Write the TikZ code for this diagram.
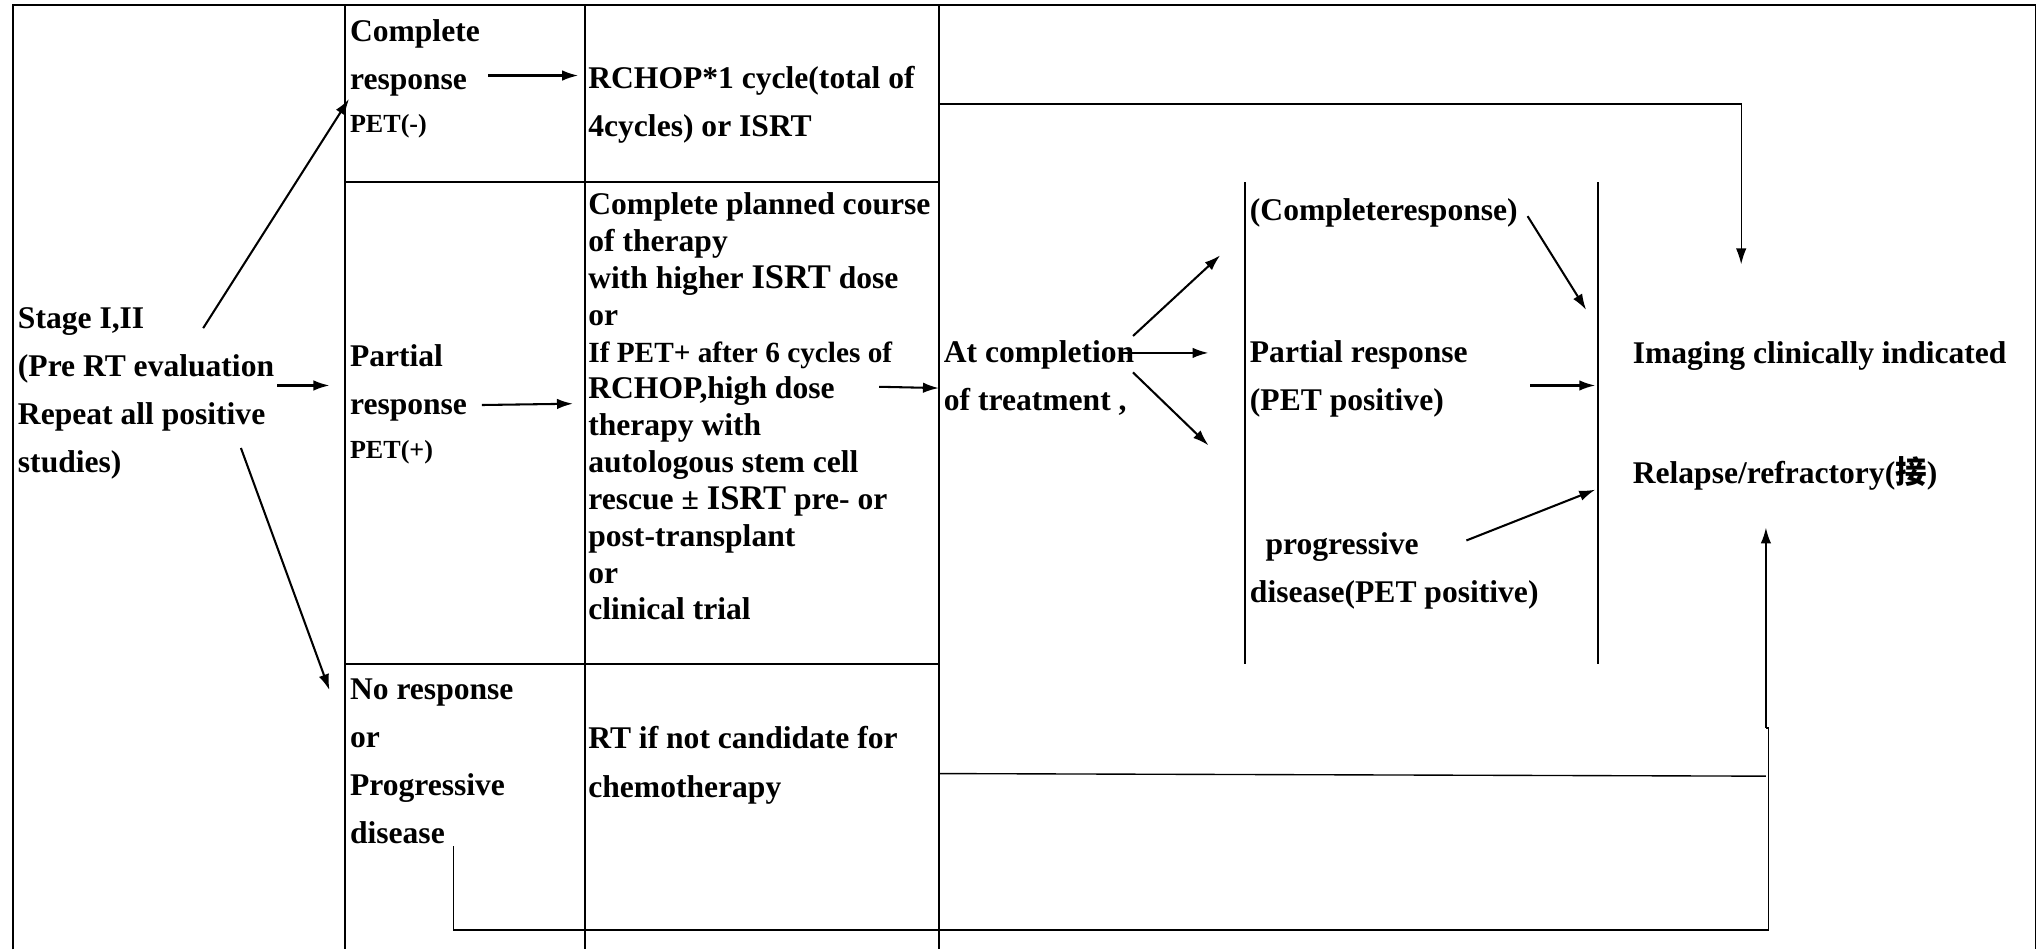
\documentclass[tikz,border=0pt]{standalone}
\usepackage{fontspec}
\setmainfont{Liberation Serif}
\newfontfamily\cjk{Noto Sans CJK SC}
\usetikzlibrary{arrows.meta}
\newcommand{\petfont}{\fontsize{11.4}{14}\selectfont}
\newcommand{\notefont}{\fontsize{12.8}{16.1}\selectfont}
\newcommand{\isrtfont}{\fontsize{15.1}{16.1}\selectfont}

\begin{document}
\begin{tikzpicture}[x=0.02cm, y=-0.02cm, >={Latex[length=7pt,width=4.6pt]}, line width=0.9pt]
  \tikzstyle{txt}=[anchor=base west, inner sep=0pt, align=left, font=\bfseries\fontsize{13.8}{21}\selectfont]
  \tikzstyle{dense}=[txt, font=\bfseries\fontsize{13.8}{16.1}\selectfont]
  \tikzstyle{tabline}=[line width=0.85pt]
  \tikzstyle{subline}=[line width=0.5pt]
  \tikzstyle{conn}=[line width=0.6pt]
  \useasboundingbox (0,0) rectangle (1568,729);

  % table
  \draw[tabline] (10,729) -- (10,4) -- (1563,4) -- (1563,729);
  \draw[tabline] (265,4) -- (265,729);
  \draw[tabline] (449,4) -- (449,729);
  \draw[tabline] (721,4) -- (721,729);
  \draw[tabline] (265,140) -- (721,140);
  \draw[tabline] (265,510) -- (721,510);
  \draw[subline] (956,140) -- (956,510);
  \draw[subline] (1227,140) -- (1227,510);

  % texts (placed by the baseline of their last line)
  \node[txt] (stage) at (13,363) {Stage I,II\\(Pre RT evaluation\\Repeat all positive\\studies)};
  \node[txt] (cr) at (268,102) {Complete\\response\\[-2pt]{\petfont PET(-)}};
  \node[txt] (pr) at (268,352) {Partial\\response\\[-2pt]{\petfont PET(+)}};
  \node[txt] (nr) at (268,648) {No response\\or\\Progressive\\disease};
  \node[txt] (rchop) at (451,105) {RCHOP*1 cycle(total of\\4cycles) or ISRT};
  \node[dense] (plan) at (451,476) {Complete planned course\\of therapy\\with higher {\isrtfont ISRT} dose\\or\\{\notefont If PET+ after 6 cycles of}\\RCHOP,high dose\\therapy with\\autologous stem cell\\rescue ± {\isrtfont ISRT} pre- or\\post-transplant\\or\\clinical trial};
  \node[txt] (rt) at (451,612) {RT if not candidate for\\chemotherapy};
  \node[txt] (atc) at (724,315) {At completion\\of treatment ,};
  \node[txt] (compl) at (959,169) {(Completeresponse)};
  \node[txt] (partl) at (959,315) {Partial response\\(PET positive)};
  \node[txt] (progd) at (959,463) {\hspace*{6.8pt}progressive\\disease(PET positive)};
  \node[txt] (imaging) at (1253,279) {Imaging clinically indicated};
  \node[txt] (relapse) at (1253,371) {Relapse/refractory({\cjk 接})};

  % arrow ends
  \coordinate (s1) at (156,252);  \coordinate (cr1) at (268,76);
  \coordinate (s2) at (213,296);  \coordinate (pr1) at (253,296);
  \coordinate (s3) at (185,344);  \coordinate (nr1) at (253,530);
  \coordinate (cr2) at (375,58);  \coordinate (rchop1) at (444,58);
  \coordinate (pr2) at (370,311); \coordinate (plan1) at (440,310);
  \coordinate (plan2) at (675,297); \coordinate (atc1) at (721,298);
  \coordinate (atc2) at (870,258); \coordinate (up1) at (937,196);
  \coordinate (atc3) at (862,271); \coordinate (mid1) at (928,271);
  \coordinate (atc4) at (870,286); \coordinate (low1) at (928,342);
  \coordinate (compl1) at (1173,166); \coordinate (box1) at (1218,238);
  \coordinate (partl1) at (1175,296); \coordinate (box2) at (1225,296);
  \coordinate (progd1) at (1126,415); \coordinate (box3) at (1225,376);

  \path[->]
    (s1) edge (cr1)
    (s2) edge (pr1)
    (s3) edge (nr1)
    (cr2) edge (rchop1)
    (pr2) edge (plan1)
    (plan2) edge (atc1)
    (atc2) edge (up1)
    (atc3) edge (mid1)
    (atc4) edge (low1)
    (compl1) edge (box1)
    (partl1) edge (box2)
    (progd1) edge (box3);

  % long connectors
  \coordinate (rchop2) at (721,80);  \coordinate (img1) at (1337,203);
  \coordinate (rt1) at (721,594);    \coordinate (rt2) at (1356,596);
  \coordinate (nr2) at (348,650);    \coordinate (j1) at (1358,714);
  \coordinate (j2) at (1358,559);    \coordinate (j3) at (1356,559);
  \coordinate (rel1) at (1356,405);
  \draw[->, conn] (rchop2) -| (img1);
  \draw[conn] (rt1) -- (rt2);
  \draw[conn] (nr2) |- (j1) -- (j2) -- (j3);
  \draw[->] (j3) -- (rel1);
\end{tikzpicture}
\end{document}
